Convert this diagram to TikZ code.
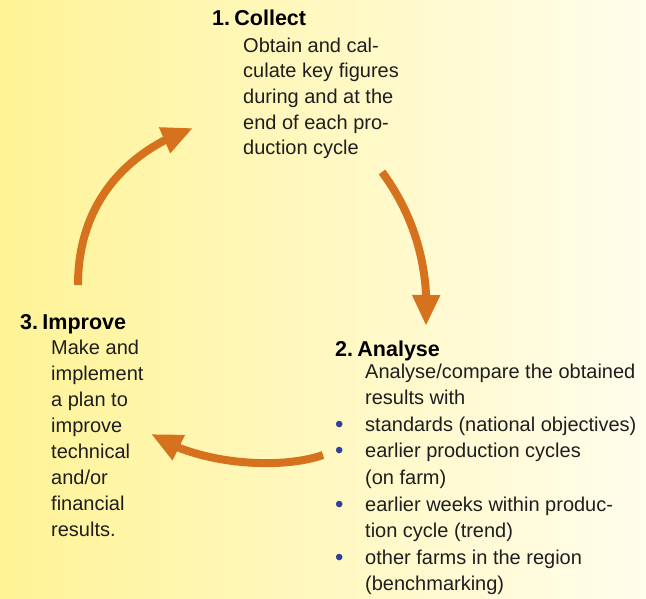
\documentclass[tikz,border=0pt]{standalone}
\usepackage{fontspec}
\setmainfont{Liberation Sans}
\usetikzlibrary{arrows.meta,bending}

\definecolor{cycleorange}{RGB}{214,114,30}
\definecolor{bulletblue}{RGB}{45,65,150}
\definecolor{bgyellow}{RGB}{255,243,150}
\definecolor{bgbeige}{RGB}{247,238,200}
\definecolor{bgcream}{RGB}{255,253,236}
\definecolor{bodytext}{RGB}{30,30,30}

\newcommand{\bulletitem}{\llap{\makebox[30pt][l]{\raisebox{-1pt}{%
  \textcolor{bulletblue}{\fontsize{24}{24}\selectfont\textbullet}}}}}

\tikzset{
  cyclearrow/.style={line width=8pt, draw=cycleorange,
    -{Triangle[length=31pt,width=26pt]}},
  steptitle/.style={inner sep=0pt, anchor=base west,
    font=\fontsize{21.5}{26}\selectfont\bfseries},
  stepbody/.style={inner sep=0pt, anchor=base west, align=left,
    text=bodytext, font=\fontsize{20}{#1}\selectfont},
  stepbody/.default=26
}

\begin{document}
\begin{tikzpicture}[x=1pt,y=-1pt]
\useasboundingbox (0,0) rectangle (646,598);
\shade[left color=bgyellow, middle color=bgbeige, right color=bgcream]
  (0,0) rectangle (646,598);

% step texts (body nodes sit on the baseline of their last line)
\node[steptitle] (collect) at (212,25.5) {1.\hspace{0.2em}Collect};
\node[stepbody=25.7] (collectbody) at (243,154.8) {Obtain and cal-\\
  culate key figures\\during and at the\\end of each pro-\\duction cycle};

\node[steptitle] (analyse) at (335,356) {2.\hspace{0.2em}Analyse};
\node[stepbody=26.6] (analysebody) at (365,590.8) {Analyse/compare the obtained\\
  results with\\
  \bulletitem standards (national objectives)\\
  \bulletitem earlier production cycles\\
  (on farm)\\
  \bulletitem earlier weeks within produc-\\
  tion cycle (trend)\\
  \bulletitem other farms in the region\\
  (benchmarking)};

\node[steptitle] (improve) at (20,329) {3.\hspace{0.2em}Improve};
\node[stepbody=26.1] (improvebody) at (51,536.7) {Make and\\implement\\
  a plan to\\improve\\technical\\and/or\\financial\\results.};

% cycle arrows
\coordinate (c1s) at (78,285);
\coordinate (c1e) at (193,128);
\coordinate (c2s) at (382,172);
\coordinate (c2e) at (426,326);
\coordinate (c3s) at (323,455);
\coordinate (c3e) at (151,434);
\draw[cyclearrow] (c1s) .. controls (78,200) and (130,150) .. (c1e);
\draw[cyclearrow] (c2s) .. controls (410,210) and (430,260) .. (c2e);
\draw[cyclearrow] (c3s) .. controls (280,470) and (200,465) .. (c3e);
\end{tikzpicture}
\end{document}
